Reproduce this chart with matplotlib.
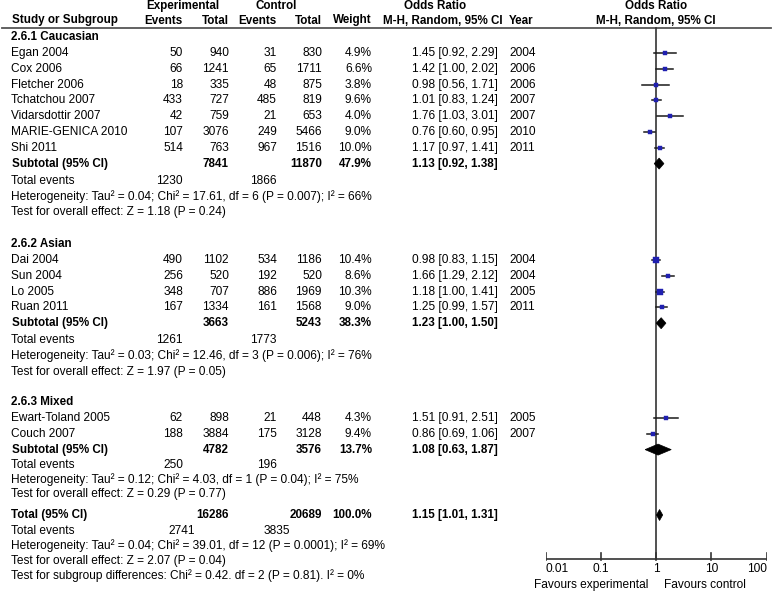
import numpy as np
import matplotlib.pyplot as plt

plt.rcParams['font.family'] = ['Liberation Sans', 'DejaVu Sans']
plt.rcParams['font.size'] = 8.6

# studies
groups = ['2.6.1 Caucasian', '2.6.2 Asian', '2.6.3 Mixed']
study_group = [0, 0, 0, 0, 0, 0, 0, 1, 1, 1, 1, 2, 2]
studies = ['Egan 2004', 'Cox 2006', 'Fletcher 2006', 'Tchatchou 2007', 'Vidarsdottir 2007',
           'MARIE-GENICA 2010', 'Shi 2011', 'Dai 2004', 'Sun 2004', 'Lo 2005', 'Ruan 2011',
           'Ewart-Toland 2005', 'Couch 2007']
exp_events = [50, 66, 18, 433, 42, 107, 514, 490, 256, 348, 167, 62, 188]
exp_total = [940, 1241, 335, 727, 759, 3076, 763, 1102, 520, 707, 1334, 898, 3884]
ctrl_events = [31, 65, 48, 485, 21, 249, 967, 534, 192, 886, 161, 21, 175]
ctrl_total = [830, 1711, 875, 819, 653, 5466, 1516, 1186, 520, 1969, 1568, 448, 3128]
weights = [4.9, 6.6, 3.8, 9.6, 4.0, 9.0, 10.0, 10.4, 8.6, 10.3, 9.0, 4.3, 9.4]
odds = [1.45, 1.42, 0.98, 1.01, 1.76, 0.76, 1.17, 0.98, 1.66, 1.18, 1.25, 1.51, 0.86]
ci_low = [0.92, 1.00, 0.56, 0.83, 1.03, 0.60, 0.97, 0.83, 1.29, 1.00, 0.99, 0.91, 0.69]
ci_high = [2.29, 2.02, 1.71, 1.24, 3.01, 0.95, 1.41, 1.15, 2.12, 1.41, 1.57, 2.51, 1.06]
years = [2004, 2006, 2006, 2007, 2007, 2010, 2011, 2004, 2004, 2005, 2011, 2005, 2007]

# subgroups
sub_exp_total = [7841, 3663, 4782]
sub_ctrl_total = [11870, 5243, 3576]
sub_weight = [47.9, 38.3, 13.7]
sub_or = [1.13, 1.23, 1.08]
sub_low = [0.92, 1.00, 0.63]
sub_high = [1.38, 1.50, 1.87]
sub_exp_events = [1230, 1261, 250]
sub_ctrl_events = [1866, 1773, 196]
sub_het = ['Heterogeneity: Tau² = 0.04; Chi² = 17.61, df = 6 (P = 0.007); I² = 66%',
           'Heterogeneity: Tau² = 0.03; Chi² = 12.46, df = 3 (P = 0.006); I² = 76%',
           'Heterogeneity: Tau² = 0.12; Chi² = 4.03, df = 1 (P = 0.04); I² = 75%']
sub_test = ['Test for overall effect: Z = 1.18 (P = 0.24)',
            'Test for overall effect: Z = 1.97 (P = 0.05)',
            'Test for overall effect: Z = 0.29 (P = 0.77)']

# overall
total_exp, total_ctrl, total_weight = 16286, 20689, 100.0
total_or, total_low, total_high = 1.15, 1.01, 1.31
total_exp_events, total_ctrl_events = 2741, 3835
total_het = 'Heterogeneity: Tau² = 0.04; Chi² = 39.01, df = 12 (P = 0.0001); I² = 69%'
total_test = 'Test for overall effect: Z = 2.07 (P = 0.04)'
subgroup_test = 'Test for subgroup differences: Chi² = 0.42. df = 2 (P = 0.81). I² = 0%'

ticks = [0.01, 0.1, 1, 10, 100]
tick_labels = ['0.01', '0.1', '1', '10', '100']

# layout (pixel rows)
W, H = 778, 602
header_y = [37, 244, 402]
step = 15.8
tot_ev_y = [181, 340, 465]
het_y = [197, 356, 480]
test_y = [212.5, 371.5, 494.5]

fig = plt.figure(figsize=(W / 100, H / 100), dpi=100)
ax = fig.add_axes([0, 0, 1, 1])
ax.set_xlim(0, W)
ax.set_ylim(H, 0)
ax.axis('off')

fx = fig.add_axes([545.7 / W, 0, 221 / W, 1])
fx.set_xscale('log')
fx.set_xlim(0.01, 100)
fx.set_ylim(H, 0)
fx.axis('off')

col_lbl = 11
col_ee, col_et, col_ce, col_ct, col_w = 183, 229, 277, 322, 372
col_or, col_yr = 498, 509


def row(y, cells, bold=False):
    for x, s, ha in cells:
        if bold:
            ax.text(x, y, s, ha=ha, va='center', fontweight='bold', fontsize=8.4)
        else:
            ax.text(x, y, s, ha=ha, va='center')


# header
row(6, [(183, 'Experimental', 'center'), (276, 'Control', 'center'),
        (435, 'Odds Ratio', 'center'), (656, 'Odds Ratio', 'center')], bold=True)
row(20.5, [(12, 'Study or Subgroup', 'left'), (col_ee, 'Events', 'right'), (col_et, 'Total', 'right'),
           (col_ce, 'Events', 'right'), (col_ct, 'Total', 'right'), (col_w, 'Weight', 'right'),
           (443, 'M-H, Random, 95% CI', 'center'), (col_yr, 'Year', 'left'),
           (656, 'M-H, Random, 95% CI', 'center')], bold=True)
ax.plot([2, 771], [27.5, 27.5], color='#555555', lw=1.3)

# forest axis
axis_y = 559
fx.plot([1, 1], [27.5, axis_y], color='#333333', lw=1.2, zorder=1)
fx.plot([ticks[0], ticks[-1]], [axis_y, axis_y], color='#333333', lw=1.2)
for k, (t, lab) in enumerate(zip(ticks, tick_labels)):
    fx.plot([t, t], [axis_y - 6, axis_y + 1], color='#333333', lw=1.2)
    ha = 'left' if k == 0 else ('right' if k == len(ticks) - 1 else 'center')
    fx.text(t, 569.5, lab, ha=ha, va='center')
fx.text(0.72, 585, 'Favours experimental', ha='right', va='center')
fx.text(1.38, 585, 'Favours control', ha='left', va='center')

blue = '#2020b0'
for g, name in enumerate(groups):
    row(header_y[g], [(col_lbl, name, 'left')], bold=True)
    idx = [i for i in range(len(studies)) if study_group[i] == g]
    y = header_y[g] + 16
    for i in idx:
        row(y, [(col_lbl, studies[i], 'left'), (col_ee, str(exp_events[i]), 'right'),
                (col_et, str(exp_total[i]), 'right'), (col_ce, str(ctrl_events[i]), 'right'),
                (col_ct, str(ctrl_total[i]), 'right'), (col_w, f'{weights[i]:.1f}%', 'right'),
                (col_or, f'{odds[i]:.2f} [{ci_low[i]:.2f}, {ci_high[i]:.2f}]', 'right'),
                (col_yr, str(years[i]), 'left')])
        fx.plot([ci_low[i], ci_high[i]], [y, y], color='#1a1a1a', lw=1.1, zorder=2)
        fx.plot(odds[i], y, 's', color=blue, mec=blue, mew=0.3,
                ms=(1.8 + weights[i] * 0.32) * 0.72, zorder=3)
        y += step
    row(y, [(col_lbl + 1, 'Subtotal (95% CI)', 'left'), (col_et, str(sub_exp_total[g]), 'right'),
            (col_ct, str(sub_ctrl_total[g]), 'right'), (col_w, f'{sub_weight[g]:.1f}%', 'right'),
            (col_or, f'{sub_or[g]:.2f} [{sub_low[g]:.2f}, {sub_high[g]:.2f}]', 'right')], bold=True)
    fx.fill([sub_low[g], sub_or[g], sub_high[g], sub_or[g]], [y, y - 5.5, y, y + 5.5],
            color='black', lw=0.5, zorder=3)
    row(tot_ev_y[g], [(col_lbl, 'Total events', 'left'), (col_ee, str(sub_exp_events[g]), 'right'),
                      (col_ce, str(sub_ctrl_events[g]), 'right')])
    row(het_y[g], [(col_lbl, sub_het[g], 'left')])
    row(test_y[g], [(col_lbl, sub_test[g], 'left')])

# overall
ty = 515
row(ty, [(col_lbl, 'Total (95% CI)', 'left'), (col_et, str(total_exp), 'right'),
         (col_ct, str(total_ctrl), 'right'), (col_w, f'{total_weight:.1f}%', 'right'),
         (col_or, f'{total_or:.2f} [{total_low:.2f}, {total_high:.2f}]', 'right')], bold=True)
fx.fill([total_low, total_or, total_high, total_or], [ty, ty - 5.5, ty, ty + 5.5],
        color='black', lw=0.5, zorder=3)
row(531, [(col_lbl, 'Total events', 'left'), (195, str(total_exp_events), 'right'),
          (290, str(total_ctrl_events), 'right')])
row(546, [(col_lbl, total_het, 'left')])
row(561, [(col_lbl, total_test, 'left')])
row(576, [(col_lbl, subgroup_test, 'left')])

fig.savefig('out.png', dpi=100)
